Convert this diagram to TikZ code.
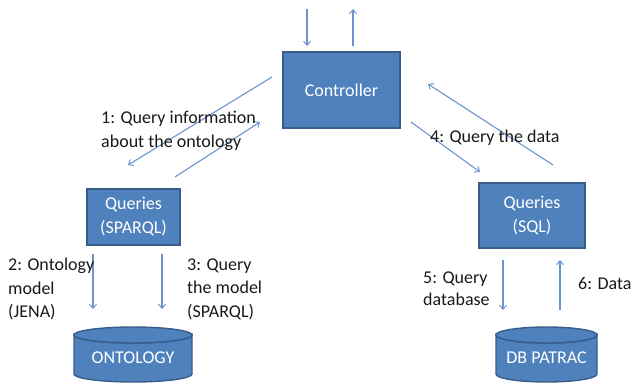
\documentclass[tikz,border=0pt]{standalone}
\usepackage{fontspec}
\setmainfont{Carlito}
\usetikzlibrary{arrows.meta}
\definecolor{boxfill}{RGB}{79,129,189}
\definecolor{boxline}{RGB}{56,93,138}
\definecolor{flowblue}{RGB}{108,148,204}
\tikzset{
  procbox/.style={draw=boxline, line width=1.4pt, fill=boxfill, text=white,
    align=center, inner sep=0pt, font=\fontsize{18}{24}\selectfont},
  dbtext/.style={text=white, inner sep=0pt, font=\fontsize{18}{24}\selectfont},
  note/.style={align=left, anchor=west, inner sep=0pt, text=black!90,
    font=\fontsize{18}{23.5}\selectfont},
  flow/.style={draw=flowblue, line width=1.1pt,
    -{Straight Barb[length=4pt,width=7pt,line width=1pt]}}
}
% cylinder: centre x, top y, bottom y, half width, ellipse radius
\newcommand\dbdrum[5]{%
  \path[fill=boxfill, draw=boxline, line width=1.4pt]
    ({#1-#4},{#2+#5}) -- ({#1-#4},{#3-#5})
    arc[start angle=180, end angle=0, x radius=#4, y radius=#5]
    -- ({#1+#4},{#2+#5})
    arc[start angle=0, end angle=180, x radius=#4, y radius=#5] -- cycle;
  \path[fill=boxfill, draw=boxline, line width=1.4pt]
    (#1,{#2+#5}) ellipse[x radius=#4, y radius=#5];
}
\begin{document}
\begin{tikzpicture}[x=1pt, y=-1pt]
\useasboundingbox (0,0) rectangle (632,383);

% processing boxes
\node[procbox, minimum width=117pt, minimum height=76pt] (ctrl) at (341.5,90) {Controller};
\node[procbox, minimum width=93pt, minimum height=56pt] (qsparql) at (133.5,217) {Queries\\(SPARQL)};
\node[procbox, minimum width=106pt, minimum height=65pt] (qsql) at (532,215.5) {Queries\\(SQL)};

% data stores
\dbdrum{133}{327}{382}{59}{8}
\node[dbtext] (onto) at (133,358) {ONTOLOGY};
\dbdrum{546.5}{327}{382}{50.5}{8}
\node[dbtext] (patrac) at (546.5,358) {DB PATRAC};

% connector end points
\coordinate (inTop) at (307,9);   \coordinate (inBot) at (307,46);
\coordinate (outBot) at (353,46); \coordinate (outTop) at (353,9);
\coordinate (q1s) at (272,77);    \coordinate (q1e) at (128,165);
\coordinate (r1s) at (175,177);   \coordinate (r1e) at (260,122);
\coordinate (r4s) at (553,165);   \coordinate (r4e) at (428,84);
\coordinate (q4s) at (411,122);   \coordinate (q4e) at (480,172);
\coordinate (jS) at (93,254);     \coordinate (jE) at (93,309);
\coordinate (sS) at (162,254);    \coordinate (sE) at (162,309);
\coordinate (dbS) at (503,260);   \coordinate (dbE) at (503,310);
\coordinate (daS) at (560,310);   \coordinate (daE) at (560,260);

% connectors
\draw[flow] (inTop) -- (inBot);
\draw[flow] (outBot) -- (outTop);
\draw[flow] (q1s) -- (q1e);
\draw[flow] (r1s) -- (r1e);
\draw[flow] (r4s) -- (r4e);
\draw[flow] (q4s) -- (q4e);
\draw[flow] (jS) -- (jE);
\draw[flow] (sS) -- (sE);
\draw[flow] (dbS) -- (dbE);
\draw[flow] (daS) -- (daE);

% labels
\node[note] (l1) at (101,131) {1: Query information\\about the ontology};
\node[note] (l4) at (430,138) {4: Query the data};
\node[note] (l2) at (8,289) {2: Ontology\\model\\(JENA)};
\node[note] (l3) at (187,289) {3: Query\\the model\\(SPARQL)};
\node[note, font=\fontsize{18}{22}\selectfont] (l5) at (423,289) {5: Query\\database};
\node[note] (l6) at (578,283) {6: Data};
\end{tikzpicture}
\end{document}
